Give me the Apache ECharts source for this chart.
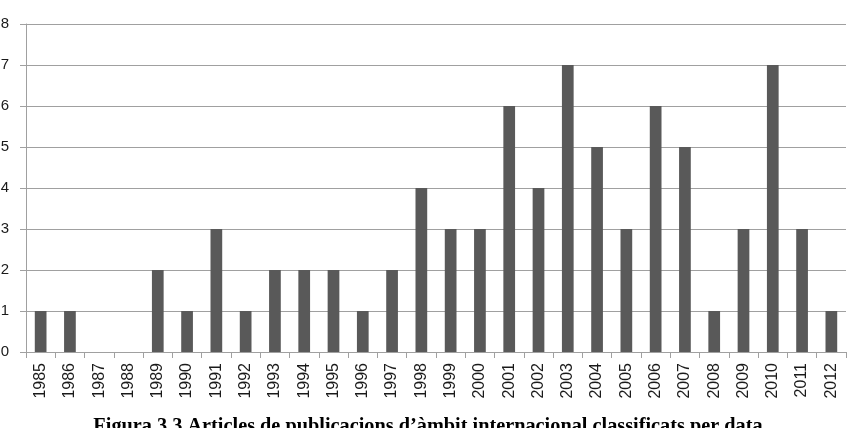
<!DOCTYPE html>
<html><head><meta charset="utf-8">
<script src="https://cdn.jsdelivr.net/npm/echarts@6/dist/echarts.min.js"></script>
<style>html,body{margin:0;padding:0;background:#fff}#c{width:856px;height:428px}</style>
</head><body><div id="c"></div>
<script>
const categories = ['1985','1986','1987','1988','1989','1990','1991','1992','1993','1994','1995','1996','1997','1998','1999','2000','2001','2002','2003','2004','2005','2006','2007','2008','2009','2010','2011','2012'];
const values = [1,1,0,0,2,1,3,1,2,2,2,1,2,4,3,3,6,4,7,5,3,6,5,1,3,7,3,1];
const titleText = 'Figura 3.3 Articles de publicacions d\u2019\u00e0mbit internacional classificats per data';

const chart = echarts.init(document.getElementById('c'));
chart.setOption({
  animation: false,
  title: {
    text: titleText, left: 'center', top: 412,
    textStyle: {fontFamily: 'Liberation Serif', fontWeight: 'bold', fontSize: 20.3, color: '#000'}
  },
  grid: {left: 26, right: 10, top: 24, bottom: 76, containLabel: false, outerBoundsMode: 'none'},
  xAxis: {
    type: 'category', data: categories, boundaryGap: true,
    axisLine: {lineStyle: {color: '#a0a0a0', width: 1}},
    axisTick: {show: true, length: 6, lineStyle: {color: '#a0a0a0'}},
    axisLabel: {rotate: 90, margin: 11, fontFamily: 'Liberation Sans', fontSize: 16, color: '#1a1a1a', interval: 0}
  },
  yAxis: {
    type: 'value', min: 0, max: 8, interval: 1,
    axisLine: {show: true, lineStyle: {color: '#a0a0a0'}},
    axisTick: {show: true, length: 6, lineStyle: {color: '#a0a0a0'}},
    splitLine: {lineStyle: {color: '#a0a0a0', width: 1}},
    axisLabel: {margin: 17, fontFamily: 'Liberation Sans', fontSize: 15, color: '#1a1a1a'}
  },
  series: [{
    type: 'bar', data: values, barWidth: '40%',
    itemStyle: {color: '#595959'}
  }]
});
</script></body></html>
